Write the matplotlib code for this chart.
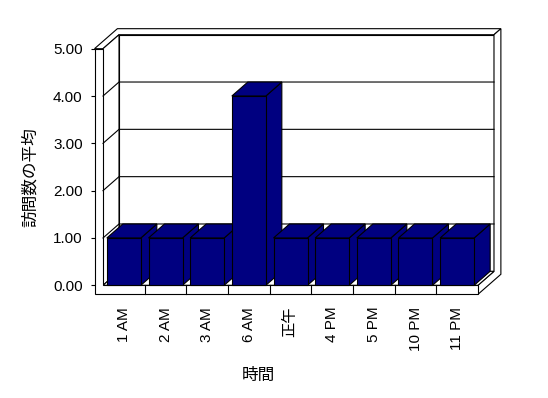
import matplotlib
matplotlib.use("Agg")
import matplotlib.pyplot as plt
from matplotlib.patches import Polygon

plt.rcParams['font.family'] = ['Liberation Sans', 'Noto Sans CJK JP', 'DejaVu Sans']

# data
hours = ["1 AM", "2 AM", "3 AM", "6 AM", "正午", "4 PM", "5 PM", "10 PM", "11 PM"]
visits = [1, 1, 1, 4, 1, 1, 1, 1, 1]
y_ticks = [0, 1, 2, 3, 4, 5]

W, H = 548, 398
fig = plt.figure(figsize=(W / 100, H / 100), dpi=100)
# front face of the plot box, in pixels
px_left, px_right, px_bottom, px_top = 103, 478, 285.3, 48.7
ax = fig.add_axes([px_left / W, 1 - px_bottom / H,
                   (px_right - px_left) / W, (px_bottom - px_top) / H])
n = len(hours)
ymax = y_ticks[-1]
ax.set_xlim(0, n)
ax.set_ylim(0, ymax)

# oblique projection: depth z in [0, 1] shifts right/up
cat_px = (px_right - px_left) / n
val_px = (px_bottom - px_top) / ymax
ox, oy = 16 / cat_px, 14 / val_px
t = 8.5 / cat_px      # left wall thickness
f = 9 / val_px        # floor thickness
w = 0.43              # back wall thickness (depth units)
lw = 0.8


def P(x, y, z):
    return (x + z * ox, y + z * oy)


def face(pts, color="white", z=1):
    ax.add_patch(Polygon([P(*p) for p in pts], closed=True, facecolor=color,
                         edgecolor="black", lw=lw, clip_on=False, zorder=z,
                         joinstyle="miter"))


D = 1 + w
# back wall front face
face([(0, 0, 1), (n, 0, 1), (n, ymax, 1), (0, ymax, 1)])
# combined top of walls
face([(-t, ymax, 0), (0, ymax, 0), (0, ymax, 1), (n, ymax, 1), (n, ymax, D), (-t, ymax, D)])
# right side of back wall + floor
face([(n, -f, 0), (n, -f, D), (n, ymax, D), (n, ymax, 1), (n, 0, 1), (n, 0, 0)])
# left wall inner face
face([(0, 0, 0), (0, ymax, 0), (0, ymax, 1), (0, 0, 1)])
# floor top
face([(0, 0, 0), (n, 0, 0), (n, 0, 1), (0, 0, 1)])
# front of left wall + floor
face([(-t, -f, 0), (n, -f, 0), (n, 0, 0), (0, 0, 0), (0, ymax, 0), (-t, ymax, 0)])

# gridlines on left wall and back wall
for v in y_ticks[1:-1]:
    pts = [P(0, v, 0), P(0, v, 1), P(n, v, 1)]
    ax.plot([p[0] for p in pts], [p[1] for p in pts], color="black", lw=lw,
            clip_on=False, zorder=1.5)

# category separators on the floor front
for i in range(1, n):
    ax.plot([i, i], [0, -f], color="black", lw=lw, clip_on=False, zorder=1.5)

# 3D bars
bw = 34 / cat_px
navy = "#000080"
for i, v in enumerate(visits):
    x0 = i + 0.5 - bw / 2
    x1 = x0 + bw
    zz = 2 + i * 0.01
    face([(x1, 0, 0), (x1, 0, 1), (x1, v, 1), (x1, v, 0)], navy, zz)
    face([(x0, v, 0), (x1, v, 0), (x1, v, 1), (x0, v, 1)], navy, zz)
    face([(x0, 0, 0), (x1, 0, 0), (x1, v, 0), (x0, v, 0)], navy, zz)

for s in ax.spines.values():
    s.set_visible(False)
ax.spines['left'].set_position(('outward', t * cat_px * 0.72))
ax.set_yticks(y_ticks)
ax.set_yticklabels([f"{v:.2f}" for v in y_ticks], fontsize=11)
ax.tick_params(axis='y', direction='out', length=3, width=lw, pad=5.5)
ax.set_xticks([i + 0.5 for i in range(n)])
ax.set_xticklabels(hours, rotation=90, fontsize=11, va='top')
ax.tick_params(axis='x', length=0, pad=15.5)
ax.patch.set_visible(False)

fig.text(30 / W, 1 - 177 / H, "訪問数の平均", rotation=90, fontsize=12,
         ha='center', va='center')
fig.text(258.5 / W, 1 - 375 / H, "時間", fontsize=12, ha='center', va='center')

fig.savefig("out.png", dpi=100)
